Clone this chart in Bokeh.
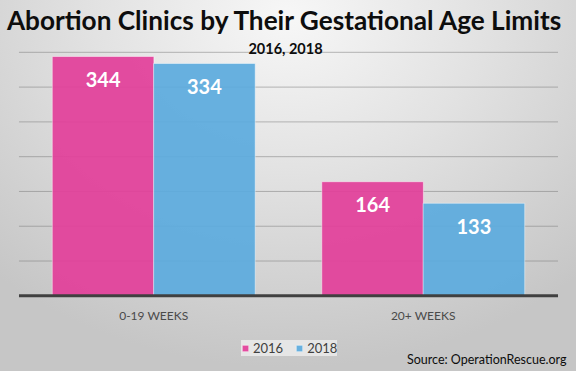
from bokeh.plotting import figure
from bokeh.models import (FactorRange, Range1d, Label, Legend, LegendItem, ColumnDataSource)
from bokeh.transform import dodge
from bokeh.core.properties import value
from bokeh.embed import file_html
from bokeh.resources import INLINE

categories = ["0-19 WEEKS", "20+ WEEKS"]
years = ["2016", "2018"]
values_2016 = [344, 164]
values_2018 = [334, 133]
grid_ticks = [50, 100, 150, 200, 250, 300, 350]
title_text = "Abortion Clinics by Their Gestational Age Limits"
subtitle_text = "2016, 2018"
source_text = "Source: OperationRescue.org"

PINK = "#E2409A"
BLUE = "#5DABDE"
FONT = "Lato"

src = ColumnDataSource(dict(
    cat=categories,
    zero=[0] * len(categories),
    v2016=values_2016,
    v2018=values_2018,
    t2016=[str(v) for v in values_2016],
    t2018=[str(v) for v in values_2018],
))
grid_src = ColumnDataSource(dict(
    y=grid_ticks,
    c0=[categories[0]] * len(grid_ticks),
    c1=[categories[-1]] * len(grid_ticks),
))
base_src = ColumnDataSource(dict(y=[0], c0=[categories[0]], c1=[categories[-1]]))

p = figure(x_range=FactorRange(*categories, range_padding=0.0686, range_padding_units="absolute"),
           y_range=Range1d(-108.8, 424.5),
           width=576, height=371, output_backend="svg", toolbar_location=None,
           min_border_left=0, min_border_right=0, min_border_top=0, min_border_bottom=0)
p.title.visible = False
p.border_fill_alpha = 0
p.background_fill_alpha = 0
p.outline_line_color = None
p.styles = {"background": "radial-gradient(ellipse 75% 95% at 50% 4%, #f7f7f7 0%, #e2e2e2 45%, #d0d0d0 80%, #c6c6c6 100%)"}

p.xaxis.visible = False
p.yaxis.visible = False
p.xgrid.grid_line_color = None
p.ygrid.grid_line_color = None

# horizontal grid lines spanning the category band
p.segment(x0=dodge("c0", -0.5, range=p.x_range), x1=dodge("c1", 0.5, range=p.x_range),
          y0="y", y1="y", source=grid_src, line_color="#7a7a7a", line_alpha=0.5, line_width=1)

r1 = p.vbar(x=dodge("cat", -0.188, range=p.x_range), top="v2016", width=0.377, source=src,
            fill_color=PINK, fill_alpha=0.93, line_color="white", line_alpha=0.45, line_width=1)
r2 = p.vbar(x=dodge("cat", 0.188, range=p.x_range), top="v2018", width=0.377, source=src,
            fill_color=BLUE, fill_alpha=0.93, line_color="white", line_alpha=0.45, line_width=1)

# baseline (category axis line)
p.segment(x0=dodge("c0", -0.5, range=p.x_range), x1=dodge("c1", 0.5, range=p.x_range),
          y0="y", y1="y", source=base_src, line_color="#404040", line_width=3)

p.text(x=dodge("cat", -0.188, range=p.x_range), y="v2016", text="t2016", source=src,
       text_font=value(FONT), text_font_style="bold", text_font_size="20px", text_color="white",
       text_align="center", text_baseline="alphabetic", y_offset=23)
p.text(x=dodge("cat", 0.188, range=p.x_range), y="v2018", text="t2018", source=src,
       text_font=value(FONT), text_font_style="bold", text_font_size="20px", text_color="white",
       text_align="center", text_baseline="alphabetic", y_offset=23)

# category (tick) labels
p.text(x="cat", y="zero", text="cat", source=src,
       text_font=value(FONT), text_font_size="12px", text_color="#4a4a4a",
       text_align="center", text_baseline="alphabetic", y_offset=20)

p.add_layout(Label(x=285, y=352, x_units="screen", y_units="screen", text=title_text,
                   text_font=FONT, text_font_style="bold", text_font_size="26.2px",
                   text_color="#0d0d0d", text_align="center", text_baseline="alphabetic"))
p.add_layout(Label(x=285, y=322.7, x_units="screen", y_units="screen", text=subtitle_text,
                   text_font=FONT, text_font_style="bold", text_font_size="14.5px",
                   text_color="#0d0d0d", text_align="center", text_baseline="alphabetic"))
p.add_layout(Label(x=566, y=12.3, x_units="screen", y_units="screen", text=source_text,
                   text_font=FONT, text_font_size="12.5px",
                   text_color="#0d0d0d", text_align="right", text_baseline="alphabetic"))

legend = Legend(items=[LegendItem(label=years[0], renderers=[r1]),
                       LegendItem(label=years[1], renderers=[r2])],
                orientation="horizontal", location=(241, 15.5),
                label_text_font=FONT, label_text_font_size="13px", label_text_color="#404040",
                glyph_width=8, glyph_height=8, label_height=9, label_standoff=4,
                spacing=12, padding=10, margin=0,
                background_fill_color="#e6e6e6", background_fill_alpha=1,
                border_line_color=None)
p.add_layout(legend, "center")

open("out.html", "w").write(file_html(p, INLINE))
